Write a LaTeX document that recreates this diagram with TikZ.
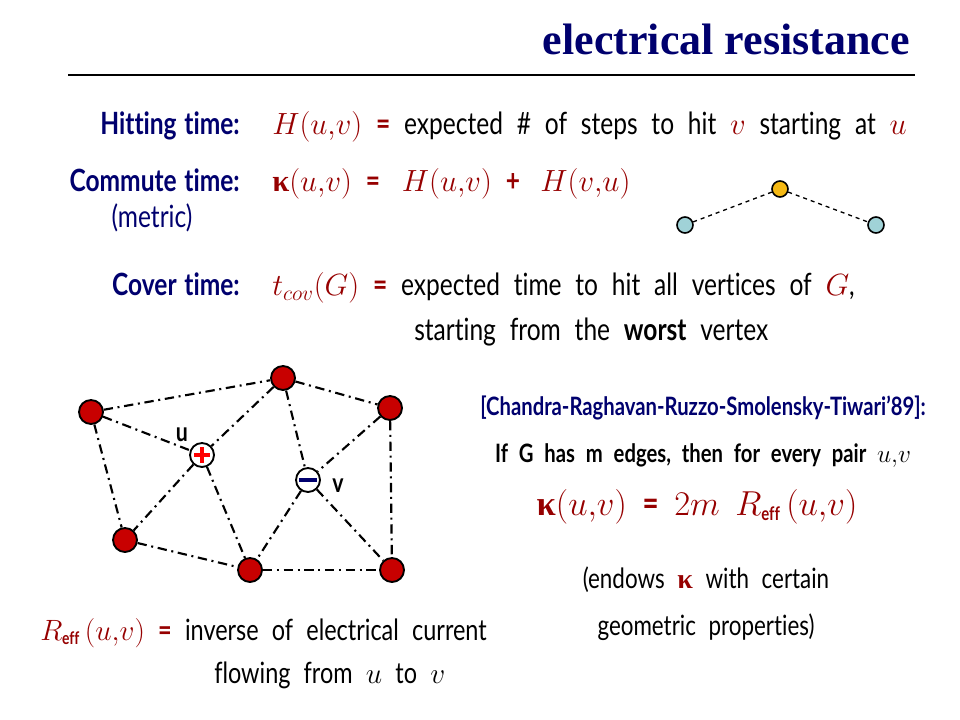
\RequirePackage{fix-cm}
\documentclass[tikz,border=0pt]{standalone}
\usepackage{amsmath}
\usepackage{bm}
\usepackage{fontspec}
\setmainfont{Lato}[FakeStretch=0.8, WordSpace=2.2, Ligatures=NoCommon]
\newfontfamily\lblfont{Lato}[FakeStretch=0.8, WordSpace=1.3, Ligatures=NoCommon]
\newfontfamily\titlefont{Liberation Serif}
\newcommand{\kap}{{\titlefont\bfseries κ}}
\definecolor{navy}{RGB}{0,0,110}
\definecolor{dred}{RGB}{150,0,0}
\definecolor{vred}{RGB}{200,0,0}
\definecolor{vcyan}{RGB}{160,210,215}
\definecolor{vgold}{RGB}{245,185,20}

\begin{document}
\begin{tikzpicture}[x=0.75pt,y=0.75pt,yscale=-1,xscale=1,
		lbl/.style={inner sep=0pt, text=navy, font=\fontsize{23}{28}\lblfont\bfseries},
		txt/.style={inner sep=0pt, font=\fontsize{23}{28}\selectfont},
		vtx/.style={circle, draw=black, line width=1.4pt, fill=vred, minimum size=18pt, inner sep=0pt},
		pole/.style={circle, draw=black, line width=1.4pt, fill=white, minimum size=18pt, inner sep=0pt},
		dot/.style={circle, draw=black, line width=1.2pt, minimum size=12pt, inner sep=0pt},
		ddot/.style={line width=1.6pt, dash pattern=on 7pt off 3.5pt on 1.5pt off 3.5pt},
		]
		\path (0,0) rectangle (960,720); %set diagram to the slide size
		
		% title
		\node [anchor=base east, inner sep=0pt, text=navy, font=\fontsize{33}{38}\titlefont\bfseries] (title) at (910,55) {electrical resistance};
		\draw [line width=1.5pt] (68,75) -- (915,75);
		
		% definitions
		\node [lbl, anchor=base east] (hit) at (240,135) {Hitting time:};
		\node [txt, anchor=base west] (hitdef) at (272,135) {\textcolor{dred}{$H(u{,}v)$ \textbf{=}} expected \# of steps to hit \textcolor{dred}{$v$} starting at \textcolor{dred}{$u$}};
		\node [lbl, anchor=base east] (comm) at (240,192) {Commute time:};
		\node [txt, anchor=base, text=navy] (metric) at (152,228) {(metric)};
		\node [txt, anchor=base west, text=dred] (commdef) at (272,192) {\kap$(u{,}v)$ \textbf{=}\hspace{6pt} $H(u{,}v)$ \textbf{+}\hspace{5pt} $H(v{,}u)$};
		\node [lbl, anchor=base east] (cov) at (240,296) {Cover time:};
		\node [txt, anchor=base west] (covdef) at (272,296) {\textcolor{dred}{$t_{cov}(G)$ \textbf{=}} expected time to hit all vertices of \textcolor{dred}{$G$},};
		\node [txt, anchor=base west] (covdef2) at (414,340) {starting from the \textbf{worst} vertex};
		
		% small path
		\node [dot, fill=vcyan] (p1) at (685,225) {};
		\node [dot, fill=vgold] (p2) at (780,189) {};
		\node [dot, fill=vcyan] (p3) at (876,225) {};
		\draw [dashed, line width=1pt] (p1) -- (p2) -- (p3);
		
		% network
		\node [vtx] (a) at (91,412) {};
		\node [vtx] (b) at (283,378) {};
		\node [vtx] (c) at (390,408) {};
		\node [pole] (u) at (202,455) {};
		\node [pole] (v) at (308,480) {};
		\node [vtx] (d) at (125,540) {};
		\node [vtx] (e) at (250,570) {};
		\node [vtx] (f) at (392,570) {};
		\foreach \s/\t in {a/b, a/u, a/d, b/u, b/v, b/c, c/v, c/f, u/d, u/e, v/e, v/f, d/e, e/f}
		\draw [ddot] (\s) -- (\t);
		\draw [red, line width=2.4pt] ([xshift=-6pt]u.center) -- ([xshift=6pt]u.center) ([yshift=-6pt]u.center) -- ([yshift=6pt]u.center);
		\draw [navy, line width=2.4pt] ([xshift=-6.5pt]v.center) -- ([xshift=6.5pt]v.center);
		\node [anchor=base, inner sep=0pt, font=\fontsize{20}{24}\selectfont\bfseries] (ulbl) at (182,441) {u};
		\node [anchor=base, inner sep=0pt, font=\fontsize{20}{24}\selectfont\bfseries] (vlbl) at (338,492) {v};
		
		% theorem
		\node [anchor=base, inner sep=0pt, text=navy, font=\fontsize{19}{23}\selectfont\bfseries] (ref) at (703,415) {[Chandra-Raghavan-Ruzzo-Smolensky-Tiwari’89]:};
		\node [anchor=base, inner sep=0pt, font=\fontsize{19}{23}\selectfont\bfseries] (thm) at (703,462) {If G has m edges, then for every pair \mdseries$u{,}v$};
		\node [anchor=base, inner sep=0pt, text=dred, font=\fontsize{26}{30}\selectfont] (thmeq) at (697,515) {\kap$(u{,}v)$ \textbf{=} $2m$ $R_{\text{\bfseries\fontsize{14}{16}\selectfont eff}}\,(u{,}v)$};
		\node [txt, anchor=base, font=\fontsize{21}{25}\selectfont] (rem1) at (706,588) {(endows \textcolor{dred}{\kap} with certain};
		\node [txt, anchor=base, font=\fontsize{21}{25}\selectfont] (rem2) at (706,635) {geometric properties)};
		
		% resistance
		\node [txt, anchor=base west, font=\fontsize{22}{26}\selectfont] (reff) at (40,640) {\textcolor{dred}{$R_{\text{\bfseries\fontsize{13}{15}\selectfont eff}}\,(u{,}v)$ \textbf{=}} inverse of electrical current};
		\node [txt, anchor=base west, font=\fontsize{22}{26}\selectfont] (reff2) at (214,683) {flowing from $u$ to $v$};
	\end{tikzpicture}
\end{document}
